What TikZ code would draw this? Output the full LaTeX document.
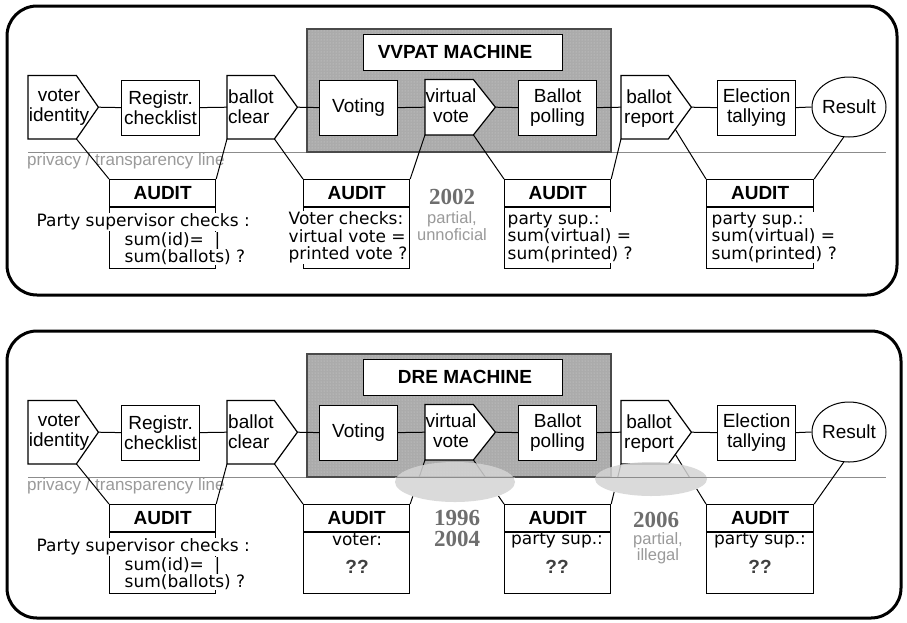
\documentclass[tikz,border=0pt]{standalone}
\usepackage{fontspec}
\setmainfont{Liberation Sans}
\newfontfamily\auditfont{DejaVu Sans}
\newfontfamily\yearfont{Liberation Serif}
\usetikzlibrary{shapes.geometric,patterns,calc}

\definecolor{machinegray}{HTML}{ABABAB}
\definecolor{machinedots}{HTML}{D2D2D2}
\definecolor{machineedge}{HTML}{4A4A4A}
\definecolor{yeargray}{HTML}{6E6E6E}
\definecolor{notegray}{HTML}{9A9A9A}
\definecolor{linegray}{HTML}{8C8C8C}
\definecolor{fogray}{HTML}{D4D4D4}

\tikzset{
  stagebox/.style={draw, line width=1.2pt, fill=white, minimum width=78pt, minimum height=55pt, inner sep=0pt, anchor=north west},
  sigcore/.style={inner sep=0pt, anchor=north west},
  sigline/.style={draw, line width=1.2pt, fill=white, line join=miter},
  lbl/.style={font=\fontsize{19}{20}\selectfont, align=center, inner sep=0pt},
  lbll/.style={font=\fontsize{19}{20}\selectfont, align=left, inner sep=0pt},
  link/.style={line width=1pt},
  auditbox/.style={draw, line width=1.2pt, minimum width=106pt, minimum height=89pt, inner sep=0pt, anchor=north west},
  audittitle/.style={font=\fontsize{19}{20}\selectfont\bfseries, inner sep=0pt},
  audittext/.style={font=\auditfont\fontsize{17}{17.5}\selectfont, align=left, fill=white, inner sep=0.5pt, anchor=west},
  auditshort/.style={font=\auditfont\fontsize{17}{17.5}\selectfont, inner sep=0pt},
  unknown/.style={font=\fontsize{19}{19}\selectfont\bfseries, text=black!75, inner sep=0pt},
  year/.style={font=\yearfont\fontsize{23}{21}\selectfont\bfseries, text=yeargray, align=center, inner sep=0pt},
  note/.style={font=\fontsize{16.5}{14}\selectfont, text=notegray, align=center, inner sep=0pt},
  panel/.style={line width=3pt, rounded corners=30pt},
  privacy/.style={draw=linegray, line width=1pt},
  privacytext/.style={font=\fontsize{17}{17}\selectfont, text=notegray, inner sep=0pt, anchor=west},
  haze/.style={fill=fogray, fill opacity=0.85, draw=none},
  machinetitle/.style={draw, fill=white, line width=1.2pt, minimum width=199pt, minimum height=36pt, inner sep=0pt, anchor=north west},
}

% stage with a pointed right side: name, x, y, width, height, tip depth
\newcommand\sigstage[6]{%
  \node[sigcore, minimum width=#4pt, minimum height=#5pt] (#1) at (#2,#3) {};
  \coordinate (#1-tip) at ([xshift=#6pt]#1.east);
  \draw[sigline] (#1.north west) -- (#1.north east) -- (#1-tip) -- (#1.south east) -- (#1.south west) -- cycle;
}

% one election process row: prefix, vertical offset, machine name, x of machine name
\newcommand\votepanel[4]{%
\begin{scope}[shift={(0,#2)}]
  % privacy / transparency line
  \draw[privacy] (28,152) -- (886,152);
  \node[privacytext] (#1pt) at (27,161) {privacy / transparency line};
  % machine enclosure
  \fill[machinegray] (307,29) rectangle (611,152);
  \fill[pattern=dots, pattern color=machinedots] (307,29) rectangle (611,152);
  \draw[machineedge, line width=1.5pt] (307,29) rectangle (611,152);
  \node[machinetitle] (#1mt) at (363,34) {};
  \node[font=\fontsize{19}{20}\selectfont\bfseries, inner sep=0pt] (#1mtl) at (#4,52) {#3};
  % process stages
  \sigstage{#1vi}{28}{75.5}{48}{63}{22}
  \node[stagebox] (#1rc) at (121,79.5) {};
  \sigstage{#1bc}{227}{75.5}{47}{63}{23}
  \node[stagebox] (#1vo) at (319,79.5) {};
  \sigstage{#1vv}{425}{79.5}{48}{55}{22}
  \node[stagebox] (#1bp) at (518,79.5) {};
  \sigstage{#1br}{621}{75.5}{47}{63}{23}
  \node[stagebox] (#1et) at (717,79.5) {};
  \node[ellipse, draw, line width=1pt, fill=white, minimum width=74pt, minimum height=60pt, inner sep=0pt] (#1res) at (849,107) {};
  % stage labels
  \node[lbl] (#1vil) at (59,107) {voter\\identity};
  \node[lbl] (#1rcl) at (#1rc) {Registr.\\checklist};
  \node[lbll, anchor=west] (#1bcl) at (228,107) {ballot\\clear};
  \node[lbl] (#1vol) at (#1vo) {Voting};
  \node[lbl] (#1vvl) at (451,106) {virtual\\vote};
  \node[lbl] (#1bpl) at (#1bp) {Ballot\\polling};
  \node[lbl] (#1brl) at (649,109) {ballot\\report};
  \node[lbl] (#1etl) at (#1et) {Election\\tallying};
  \node[lbl] (#1resl) at (#1res) {Result};
  % flow
  \draw[link] (#1vi-tip) -- (#1rc.west);
  \draw[link] (#1rc.east) -- (#1bc.west);
  \draw[link] (#1bc-tip) -- (#1vo.west);
  \draw[link] (#1vo.east) -- (#1vv.west);
  \draw[link] (#1vv-tip) -- (#1bp.west);
  \draw[link] (#1bp.east) -- (#1br.west);
  \draw[link] (#1br-tip) -- (#1et.west);
  \draw[link] (#1et.east) -- (#1res.west);
  % audit points
  \node[auditbox] (#1a1) at (109,179) {};
  \node[auditbox] (#1a2) at (303,179) {};
  \node[auditbox] (#1a3) at (504,179) {};
  \node[auditbox, minimum width=107pt] (#1a4) at (706,179) {};
  \foreach \a in {a1,a2,a3,a4} {
    \draw[line width=1.2pt] ([yshift=-28pt]#1\a.north west) -- ([yshift=-28pt]#1\a.north east);
    \node[audittitle] (#1\a-t) at ([yshift=-14pt]#1\a.north) {AUDIT};
  }
  \draw[link] (#1vi.south east) -- (#1a1.north west);
  \draw[link] (#1bc.south west) -- (#1a1.north east);
  \draw[link] (#1bc.south east) -- (#1a2.north west);
  \draw[link] (#1vv.south west) -- (#1a2.north east);
  \draw[link] (#1vv.south east) -- (#1a3.north west);
  \draw[link] (#1br.south west) -- (#1a3.north east);
  \draw[link] ($(#1br.south east)!0.3!(#1br-tip)$) -- (#1a4.north west);
  \draw[link] (#1res.260) -- (#1a4.north east);
  % registration audit
  \node[audittext] (#1a1x) at (36,222) {Party supervisor checks :};
  \node[audittext] (#1a1y) at (124,248.5) {sum(id)= \ |\\sum(ballots) ?};
\end{scope}}

\begin{document}
\begin{tikzpicture}[x=1pt,y=-1pt]
  \useasboundingbox (0,0) rectangle (907,622);
  \fill[white] (0,0) rectangle (907,622);

  % ---- VVPAT process ----
  \votepanel{t}{0}{VVPAT MACHINE}{455}
  \node[audittext] (ta2x) at (288,237.5) {Voter checks:\\virtual vote =\\printed vote ?};
  \node[audittext] (ta3x) at (507,237.5) {party sup.:\\sum(virtual) =\\sum(printed) ?};
  \node[audittext] (ta4x) at (711,237.5) {party sup.:\\sum(virtual) =\\sum(printed) ?};
  \node[year] (t2002) at (452,197) {2002};
  \node[note] (tnote) at (452,226) {partial,\\unnoficial};
  \draw[panel] (7,6) rectangle (897,295);

  % ---- DRE process ----
  \votepanel{b}{325}{DRE MACHINE}{465}
  \begin{scope}
    \clip (0,477) rectangle (907,622);
    \fill[white] (455,482) ellipse [x radius=60, y radius=20];
    \fill[white] (651,479) ellipse [x radius=56, y radius=17];
  \end{scope}
  \fill[haze] (455,482) ellipse [x radius=60, y radius=20];
  \fill[haze] (651,479) ellipse [x radius=56, y radius=17];
  \draw[privacy] (395,477) -- (515,477);
  \draw[privacy] (595,477) -- (707,477);
  \node[auditshort] (ba2x) at (357,540) {voter:};
  \node[unknown] (ba2q) at (357,567) {??};
  \node[auditshort] (ba3x) at (557,540) {party sup.:};
  \node[unknown] (ba3q) at (557,567) {??};
  \node[auditshort] (ba4x) at (760,540) {party sup.:};
  \node[unknown] (ba4q) at (760,567) {??};
  \node[year] (b1996) at (457,528.5) {1996\\2004};
  \node[year] (b2006) at (656,520) {2006};
  \node[note] (bnote) at (658,548) {partial,\\illegal};
  \draw[panel] (7,331) rectangle (901,618);
\end{tikzpicture}
\end{document}
